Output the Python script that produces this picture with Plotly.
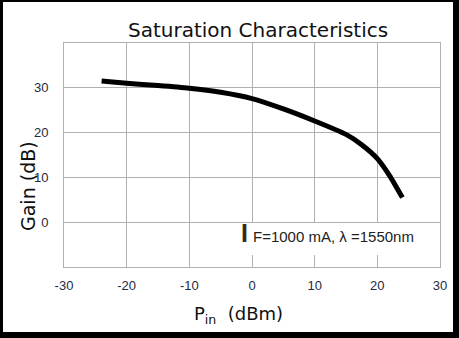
import plotly.graph_objects as go

# Data
pin_dbm = [-24, -20, -15, -10, -5, 0, 5, 10, 15, 17.5, 20, 22, 24]
gain_db = [31.5, 31.0, 30.5, 29.9, 29.0, 27.6, 25.3, 22.6, 19.6, 17.3, 14.2, 10.3, 5.5]

x_ticks = [-30, -20, -10, 0, 10, 20, 30]
y_ticks = [0, 10, 20, 30]

W, H = 459, 338
L, R, T, B = 64, 440, 43, 267  # plot area in px

def px(x):
    return (x - L) / (R - L)

def py(y):
    return (B - y) / (B - T)

fig = go.Figure()
fig.add_trace(go.Scatter(
    x=pin_dbm, y=gain_db, mode="lines",
    line=dict(color="black", width=5, shape="spline", smoothing=0.5),
    showlegend=False, hoverinfo="skip",
))

font = "DejaVu Sans, Verdana, sans-serif"
grid = "#b0b0b0"

fig.update_layout(
    width=W, height=H,
    margin=dict(l=L, r=W - R, t=T, b=H - B),
    paper_bgcolor="black",
    plot_bgcolor="white",
    font=dict(family=font, color="#222"),
    xaxis=dict(
        range=[-30, 30], tickvals=x_ticks, ticktext=[str(v) for v in x_ticks],
        showgrid=True, gridcolor=grid, gridwidth=1,
        showline=True, linecolor=grid, linewidth=1, mirror=True,
        zeroline=False, ticks="", ticklabelstandoff=6,
        tickfont=dict(family="Liberation Sans, Arial, sans-serif", size=13, color="#1e2a40"),
    ),
    yaxis=dict(
        range=[-10, 40], tickvals=y_ticks, ticktext=[str(v) for v in y_ticks],
        showgrid=True, gridcolor=grid, gridwidth=1,
        showline=True, linecolor=grid, linewidth=1, mirror=True,
        zeroline=False, ticks="", ticklabelstandoff=12,
        tickfont=dict(family="Liberation Sans, Arial, sans-serif", size=13, color="#1e2a40"),
    ),
    shapes=[
        dict(type="rect", xref="paper", yref="paper", layer="below",
             x0=px(3), x1=px(453), y0=py(332), y1=py(2),
             fillcolor="white", line=dict(width=0)),
        dict(type="rect", xref="paper", yref="paper", layer="above",
             x0=px(232), x1=px(415), y0=py(255), y1=py(223),
             fillcolor="white", line=dict(width=0)),
    ],
    annotations=[
        dict(text="Saturation Characteristics", xref="paper", yref="paper",
             x=px(258), y=py(30), showarrow=False, xanchor="center", yanchor="middle",
             font=dict(size=20, color="#111")),
        dict(text="Gain (dB)", xref="paper", yref="paper", textangle=-90,
             x=px(28), y=py(186), showarrow=False, xanchor="center", yanchor="middle",
             font=dict(size=19, color="#111")),
        dict(text="P<sub>in</sub>  (dBm)", xref="paper", yref="paper",
             x=px(238), y=py(315), showarrow=False, xanchor="center", yanchor="middle",
             font=dict(size=18, color="#111")),
        dict(text="<b>I</b>", xref="paper", yref="paper",
             x=px(244), y=py(233), showarrow=False, xanchor="center", yanchor="middle",
             font=dict(family="Liberation Sans, Arial, sans-serif", size=25, color="#3a2810")),
        dict(text="F=1000 mA, λ =1550nm", xref="paper", yref="paper",
             x=px(251), y=py(236), showarrow=False, xanchor="left", yanchor="middle",
             font=dict(family="Liberation Sans, Arial, sans-serif", size=15, color="#222")),
    ],
)

fig.write_html("out.html")
